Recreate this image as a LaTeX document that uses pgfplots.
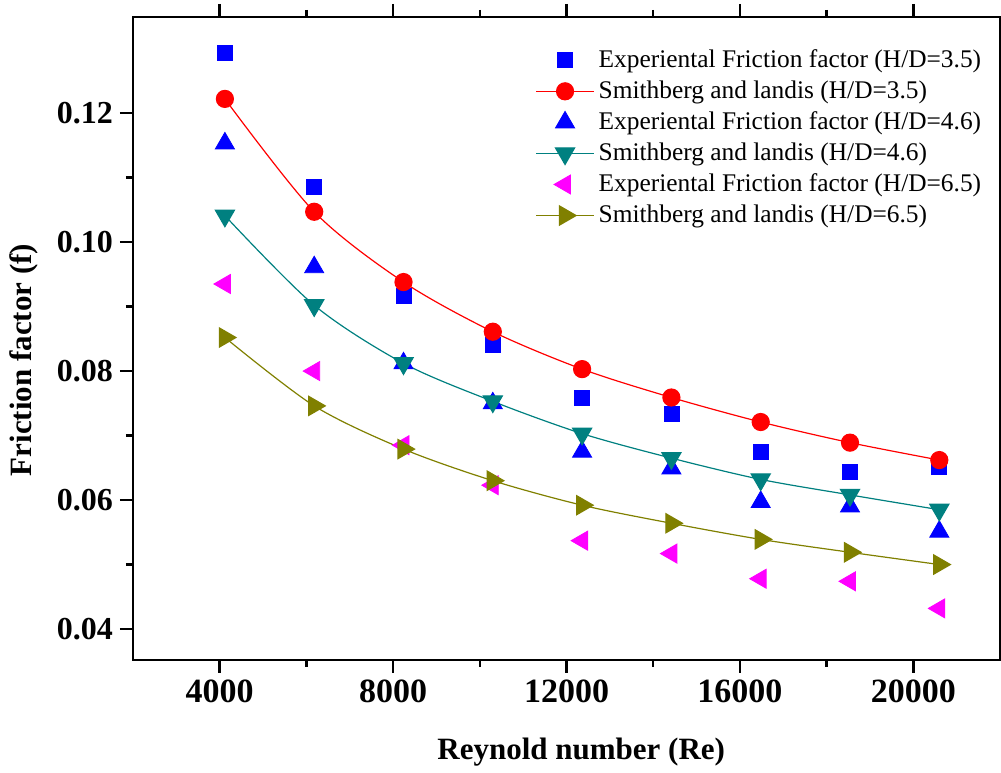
\documentclass[border=0pt]{standalone}
\usepackage{pgfplots}
\pgfplotsset{compat=1.18}
\usepackage{fontspec}
\setmainfont{Liberation Serif}
\definecolor{cblue}{RGB}{0,0,255}
\definecolor{cred}{RGB}{255,0,0}
\definecolor{cteal}{RGB}{0,128,128}
\definecolor{cmag}{RGB}{255,0,255}
\definecolor{colive}{RGB}{128,128,0}
\begin{document}
\begin{tikzpicture}
\begin{axis}[
    scale only axis,
    width=433.5pt, height=321.5pt,
    xmin=2000, xmax=22000,
    ymin=0.0352, ymax=0.1349,
    xtick={4000,8000,12000,16000,20000},
    ytick={0.04,0.06,0.08,0.10,0.12},
    minor x tick num=1, minor y tick num=1,
    xtick pos=both, ytick pos=left,
    tick align=outside,
    major tick length=6.5pt, minor tick length=3.5pt,
    axis line style={line width=1.2pt},
    every tick/.style={black, line width=1.2pt},
    scaled x ticks=false, scaled y ticks=false,
    /pgf/number format/assume math mode=true,
    x tick label style={font=\bfseries\fontsize{17}{17}\selectfont, /pgf/number format/set thousands separator={}},
    y tick label style={font=\bfseries\fontsize{16}{16}\selectfont, /pgf/number format/.cd, fixed, fixed zerofill, precision=2},
    xlabel={Reynold number (Re)},
    ylabel={Friction factor (f)},
    label style={font=\bfseries\fontsize{15.5}{17}\selectfont},
    xlabel style={at={(axis description cs:0.517,-0.1426)}, anchor=center},
    ylabel style={at={(axis description cs:-0.1257,0.4666)}, anchor=center},
    legend cell align=left,
    legend style={draw=none, fill=none, at={(axis description cs:0.4568,0.962)}, anchor=north west,
        font=\fontsize{12.7}{14}\selectfont, row sep=1.15pt},
    legend image code/.code={\draw[mark repeat=2,mark phase=2,#1] plot coordinates {(0pt,0pt) (14.5pt,0pt) (29pt,0pt)};},
]
\addplot[only marks, mark=square*, mark size=3.75pt, color=cblue] coordinates {
(4120,0.1293) (6180,0.1086) (8240,0.0917) (10300,0.0840) (12360,0.0759) (14420,0.0734) (16480,0.0675) (18540,0.0643) (20600,0.0652)};
\addlegendentry{Experiental Friction factor (H/D=3.5)}
\addplot[smooth, color=cred, line width=0.6pt, mark=*, mark size=4.25pt] coordinates {
(4120,0.1222) (6180,0.1047) (8240,0.0938) (10300,0.0861) (12360,0.0803) (14420,0.0759) (16480,0.0721) (18540,0.0689) (20600,0.0662)};
\addlegendentry{Smithberg and landis (H/D=3.5)}
\addplot[only marks, mark=triangle*, mark size=5.5pt, color=cblue] coordinates {
(4120,0.1153) (6180,0.0961) (8240,0.0812) (10300,0.0750) (12360,0.0675) (14420,0.0649) (16480,0.0597) (18540,0.0590) (20600,0.0551)};
\addlegendentry{Experiental Friction factor (H/D=4.6)}
\addplot[smooth, color=cteal, line width=0.6pt, mark=triangle*, mark size=5.5pt, mark options={rotate=180}] coordinates {
(4120,0.1041) (6180,0.0902) (8240,0.0812) (10300,0.0753) (12360,0.0703) (14420,0.0665) (16480,0.0632) (18540,0.0608) (20600,0.0585)};
\addlegendentry{Smithberg and landis (H/D=4.6)}
\addplot[only marks, mark=triangle*, mark size=5.5pt, mark options={rotate=90}, color=cmag] coordinates {
(4120,0.0935) (6180,0.0800) (8240,0.0685) (10300,0.0623) (12360,0.0537) (14420,0.0517) (16480,0.0478) (18540,0.0474) (20600,0.0432)};
\addlegendentry{Experiental Friction factor (H/D=6.5)}
\addplot[smooth, color=colive, line width=0.6pt, mark=triangle*, mark size=5.5pt, mark options={rotate=-90}] coordinates {
(4120,0.0852) (6180,0.0746) (8240,0.0679) (10300,0.0630) (12360,0.0592) (14420,0.0564) (16480,0.0539) (18540,0.0519) (20600,0.0500)};
\addlegendentry{Smithberg and landis (H/D=6.5)}
\end{axis}
\pgfresetboundingbox
\useasboundingbox (current axis.south west) ++(-66.5pt,-56.5pt) rectangle ([shift={(0.5pt,8.5pt)}]current axis.north east);
\end{tikzpicture}
\end{document}
